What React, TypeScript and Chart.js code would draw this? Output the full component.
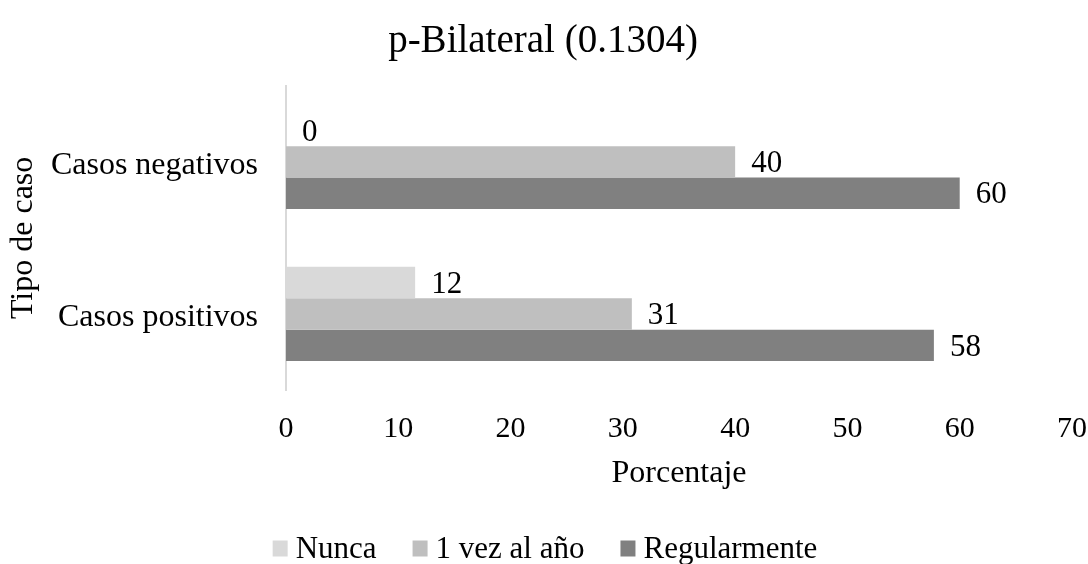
import React, { useEffect, useRef } from 'react';
import { Chart, registerables } from 'chart.js';

Chart.register(...registerables);

const categories = ['Casos negativos', 'Casos positivos'];
const seriesNames = ['Nunca', '1 vez al año', 'Regularmente'];
const nunca = [0, 11.5];
const unaVez = [40, 30.8];
const regularmente = [60, 57.7];
const seriesColors = ['#d9d9d9', '#bfbfbf', '#808080'];
const xMin = 0;
const xMax = 70;
const xStep = 10;
const chartTitle = 'p-Bilateral (0.1304)';
const xTitle = 'Porcentaje';
const yTitle = 'Tipo de caso';

const FONT = "'Liberation Serif', 'Times New Roman', serif";

const valueLabels = {
  id: 'valueLabels',
  afterDatasetsDraw(chart: any) {
    const ctx = chart.ctx;
    ctx.save();
    ctx.font = `31px ${FONT}`;
    ctx.fillStyle = '#000';
    ctx.textAlign = 'left';
    ctx.textBaseline = 'middle';
    chart.data.datasets.forEach((ds: any, i: number) => {
      const meta = chart.getDatasetMeta(i);
      meta.data.forEach((bar: any, j: number) => {
        const v = ds.data[j];
        ctx.fillText(String(Math.round(v)), bar.x + 16, bar.y + 2);
      });
    });
    ctx.restore();
  },
};

const bottomLegend = {
  id: 'bottomLegend',
  afterDraw(chart: any) {
    const ctx = chart.ctx;
    const box = 15;
    const boxGap = 8;
    const itemGap = 36;
    const y = 549;
    ctx.save();
    ctx.font = `31px ${FONT}`;
    ctx.textBaseline = 'middle';
    ctx.textAlign = 'left';
    const items = chart.data.datasets.map((ds: any) => ({
      text: ds.label,
      color: ds.backgroundColor,
      w: ctx.measureText(ds.label).width,
    }));
    const total =
      items.reduce((s: number, it: any) => s + box + boxGap + it.w, 0) + itemGap * (items.length - 1);
    let x = chart.width / 2 + 1 - total / 2;
    items.forEach((it: any) => {
      ctx.fillStyle = it.color;
      ctx.fillRect(x, y - box / 2 - 1, box, box + 1);
      x += box + boxGap;
      ctx.fillStyle = '#000';
      ctx.fillText(it.text, x, y + 1);
      x += it.w + itemGap;
    });
    ctx.restore();
  },
};

export default function App() {
  const ref = useRef<HTMLCanvasElement | null>(null);

  useEffect(() => {
    if (!ref.current) return;
    Chart.defaults.font.family = FONT;
    Chart.defaults.color = '#000';
    const allSeries = [nunca, unaVez, regularmente];
    const chart = new Chart(ref.current, {
      type: 'bar',
      data: {
        labels: categories,
        datasets: allSeries.map((data, i) => ({
          label: seriesNames[i],
          data,
          backgroundColor: seriesColors[i],
          borderWidth: 0,
          categoryPercentage: 0.62,
          barPercentage: 1,
        })),
      },
      options: {
        indexAxis: 'y',
        animation: false,
        responsive: false,
        devicePixelRatio: 1,
        layout: { padding: { left: 0, right: 2, top: 0, bottom: 70 } },
        plugins: {
          tooltip: { enabled: false },
          legend: { display: false },
          title: {
            display: true,
            text: chartTitle,
            font: { size: 39, weight: 'normal', family: FONT },
            color: '#000',
            padding: { top: 18, bottom: 21 },
          },
        },
        scales: {
          x: {
            min: xMin,
            max: xMax,
            ticks: { stepSize: xStep, padding: 21, font: { size: 30, family: FONT }, color: '#000' },
            grid: { display: false, drawTicks: false },
            border: { display: false },
            title: {
              display: true,
              text: xTitle,
              font: { size: 32, family: FONT },
              color: '#000',
              padding: { top: 4, bottom: 1 },
            },
            afterFit: (scale: any) => {
              scale.height = 104;
              scale.paddingLeft = 0;
              scale.paddingRight = 16;
            },
          },
          y: {
            ticks: { padding: 28, labelOffset: 4, font: { size: 32, family: FONT }, color: '#000' },
            grid: { display: false, drawTicks: false },
            border: { display: true, color: '#d9d9d9', width: 2 },
            title: {
              display: true,
              text: yTitle,
              font: { size: 32, family: FONT },
              color: '#000',
              padding: { top: 4, bottom: 0 },
            },
            afterFit: (scale: any) => {
              scale.width = 286;
            },
          },
        },
      },
      plugins: [valueLabels, bottomLegend],
    } as any);
    return () => chart.destroy();
  }, []);

  return (
    <div style={{ position: 'fixed', left: 0, top: 0, width: 1088, height: 564, background: '#fff' }}>
      <canvas ref={ref} width={1088} height={564} style={{ width: 1088, height: 564, display: 'block' }} />
    </div>
  );
}
